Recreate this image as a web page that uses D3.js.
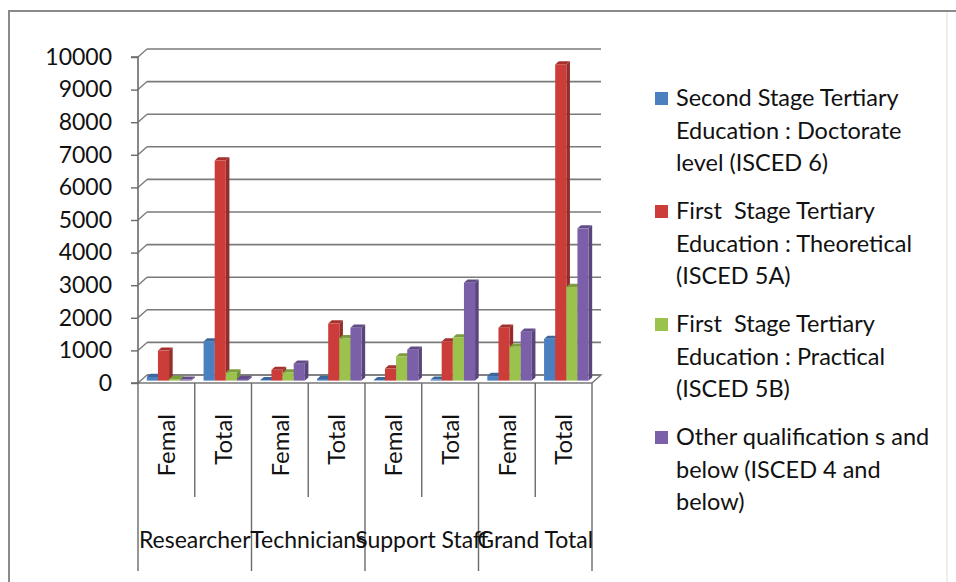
<!DOCTYPE html>
<html>
<head>
<meta charset="utf-8">
<script src="https://cdn.jsdelivr.net/npm/d3@7"></script>
<style>
  body { margin: 0; background: #fff; }
  svg text { font-family: Lato, "Open Sans", sans-serif; fill: #111; white-space: pre; }
</style>
</head>
<body>
<div id="chart"></div>
<script>
// data
var groups = ["Researcher", "Technicians", "Support Staff", "Grand Total"];
var subs = ["Femal", "Total"];
var seriesNames = [
    ["Second Stage Tertiary", "Education : Doctorate", "level (ISCED 6)"],
    ["First  Stage Tertiary", "Education : Theoretical", "(ISCED 5A)"],
    ["First  Stage Tertiary", "Education : Practical", "(ISCED 5B)"],
    ["Other qualification s and", "below (ISCED 4 and", "below)"]
];
var doctorate   = [110, 1200, 15, 50, 15, 30, 140, 1280];
var theoretical = [920, 6750, 330, 1750, 370, 1200, 1620, 9700];
var practical   = [50, 250, 250, 1300, 740, 1320, 1040, 2870];
var other       = [30, 50, 520, 1620, 950, 3000, 1500, 4670];
var yTicks = [0, 1000, 2000, 3000, 4000, 5000, 6000, 7000, 8000, 9000, 10000];
var colors = ["#4a7fc0", "#cc3d3a", "#9bc24c", "#7b5fa8"];

var series = [doctorate, theoretical, practical, other];
var cats = [];
groups.forEach(function (g) { subs.forEach(function (s) { cats.push(g + "|" + s); }); });

var W = 956, H = 582;
var svg = d3.select("#chart").append("svg").attr("width", W).attr("height", H);

// outer frame
svg.append("path").attr("d", "M9,582 V11 H956").attr("fill", "none")
    .attr("stroke", "#8a8a8a").attr("stroke-width", 2);
svg.append("line").attr("x1", 947).attr("x2", 947).attr("y1", 12).attr("y2", 582)
    .attr("stroke", "#eeeeee").attr("stroke-width", 2);

// 3d depth offset of the back wall
var DX = 9, DY = -8;

var x = d3.scaleBand().domain(cats).range([138, 592]).paddingInner(0);
var y = d3.scaleLinear().domain([0, 10000]).range([383, 57]);
var inner = d3.scaleBand().domain(d3.range(4)).range([0, x.bandwidth()]).paddingOuter(0.55);

var grid = svg.append("g");
// back wall gridlines + left wall diagonals
yTicks.forEach(function (t) {
    grid.append("line")
        .attr("x1", 138 + DX).attr("x2", 592 + DX)
        .attr("y1", y(t) + DY).attr("y2", y(t) + DY)
        .attr("stroke", "#7a7a7a").attr("stroke-width", 1.6);
    grid.append("line")
        .attr("x1", 138).attr("x2", 138 + DX)
        .attr("y1", y(t)).attr("y2", y(t) + DY)
        .attr("stroke", "#7a7a7a").attr("stroke-width", 1.4);
});
// floor
grid.append("path")
    .attr("d", "M138," + y(0) + " H592 L" + (592 + DX) + "," + (y(0) + DY) + " H" + (138 + DX))
    .attr("fill", "none").attr("stroke", "#7a7a7a").attr("stroke-width", 1.4);

// y axis
var yAxis = svg.append("g").attr("transform", "translate(138,0)")
    .call(d3.axisLeft(y).tickValues(yTicks).tickFormat(d3.format("d")).tickSize(7).tickPadding(19));
yAxis.select(".domain").attr("stroke", "#6a6a6a").attr("stroke-width", 1.6).attr("d", "M-7," + y(10000) + "H0V" + y(0) + "H-7");
yAxis.selectAll(".tick line").attr("stroke", "#6a6a6a").attr("stroke-width", 1.4);
yAxis.selectAll(".tick text").style("font-size", "23px").attr("fill", "#111");

// bars (front face at 30% depth, 40% deep)
var z0 = 0.3, dz = 0.4;
var bw = inner.bandwidth();
var barsG = svg.append("g");
cats.forEach(function (c, i) {
    series.forEach(function (s, j) {
        var v = s[i];
        var x0 = x(c) + inner(j) + z0 * DX;
        var yb = y(0) + z0 * DY, yt = y(v) + z0 * DY;
        var ox = dz * DX, oy = dz * DY;
        var col = d3.color(colors[j]);
        // side
        barsG.append("path")
            .attr("d", "M" + (x0 + bw) + "," + yb + " L" + (x0 + bw + ox) + "," + (yb + oy) +
                " L" + (x0 + bw + ox) + "," + (yt + oy) + " L" + (x0 + bw) + "," + yt + "Z")
            .attr("fill", col.darker(0.9));
        // top
        barsG.append("path")
            .attr("d", "M" + x0 + "," + yt + " L" + (x0 + bw) + "," + yt + " L" + (x0 + bw + ox) + "," + (yt + oy) +
                " L" + (x0 + ox) + "," + (yt + oy) + "Z")
            .attr("fill", col.darker(0.6));
        // front
        barsG.append("rect")
            .attr("x", x0).attr("y", yt).attr("width", bw).attr("height", Math.max(0, yb - yt))
            .attr("fill", col);
    });
});

// category axis (two levels)
var cax = svg.append("g");
cats.forEach(function (c, i) {
    var xr = x(c) + x.bandwidth();
    var long = (i % 2 === 1);
    cax.append("line").attr("x1", xr).attr("x2", xr).attr("y1", y(0)).attr("y2", long ? 571 : 497)
        .attr("stroke", "#6a6a6a").attr("stroke-width", 1.4);
    var cx = x(c) + x.bandwidth() / 2;
    cax.append("text")
        .attr("transform", "translate(" + cx + ",414) rotate(-90)")
        .attr("text-anchor", "end").attr("dy", "0.36em")
        .style("font-size", "24px")
        .text(c.split("|")[1]);
});
cax.append("line").attr("x1", 138).attr("x2", 138).attr("y1", y(0)).attr("y2", 571)
    .attr("stroke", "#6a6a6a").attr("stroke-width", 1.4);
groups.forEach(function (g, k) {
    var gx = x(cats[k * 2]) + x.bandwidth();
    cax.append("text").attr("x", gx).attr("y", 548).attr("text-anchor", "middle")
        .style("font-size", "23px").text(g);
});

// legend
var lg = svg.append("g").attr("transform", "translate(655,98)");
seriesNames.forEach(function (lines, j) {
    var e = lg.append("g").attr("transform", "translate(0," + (j * 113) + ")");
    e.append("rect").attr("x", 0).attr("y", -6).attr("width", 13).attr("height", 13).attr("fill", colors[j]);
    lines.forEach(function (t, k) {
        e.append("text").attr("x", 21).attr("y", k * 32.5).attr("dy", "0.36em")
            .style("font-size", "23.5px").text(t);
    });
});
</script>
</body>
</html>
